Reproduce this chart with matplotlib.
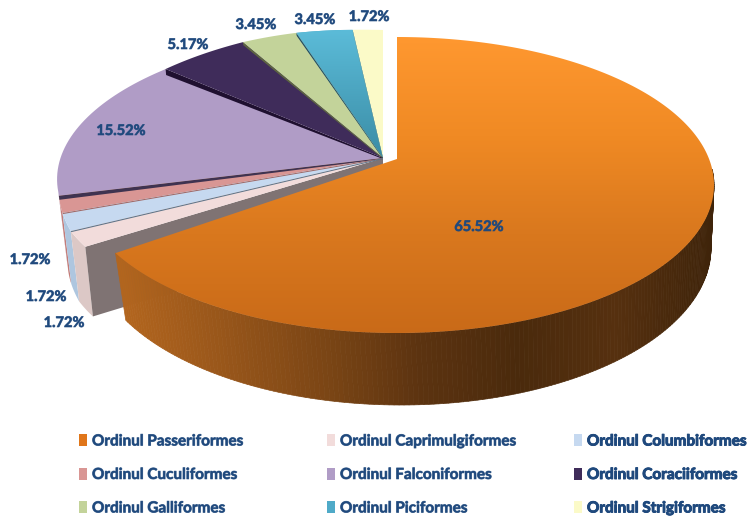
import numpy as np
import matplotlib
matplotlib.use("Agg")
import matplotlib.pyplot as plt
from matplotlib.patches import Polygon, Patch
from matplotlib.collections import PolyCollection
from matplotlib.colors import LinearSegmentedColormap
import matplotlib.patheffects as pe

categories = ["Ordinul Passeriformes", "Ordinul Caprimulgiformes", "Ordinul Columbiformes",
              "Ordinul Cuculiformes", "Ordinul Falconiformes", "Ordinul Coraciiformes",
              "Ordinul Galliformes", "Ordinul Piciformes", "Ordinul Strigiformes"]
values = [65.52, 1.72, 1.72, 1.72, 15.52, 5.17, 3.45, 3.45, 1.72]
top_colors = ["#F08A24", "#F2DCDB", "#C6D9F0", "#D99694", "#B09CC6", "#3F2C5A", "#C3D39A", "#4FAAC8", "#FBFAC8"]
side_colors = ["#8A4F15", "#DCC8C6", "#AEC6DF", "#C47C78", "#8F7FA3", "#1F1030", "#5E6640", "#1F4D66", "#8B8B60"]
wall_colors = ["#8A4F15", "#7F7373", "#5F7488", "#A06A68", "#3F3350", "#1F1030", "#5E6640", "#1F4D66", "#8B8B60"]
wall_depth = [0, 70, 1, 1, 4, 6, 3, 3, 3]
label_xy = [(479, 227), (64, 323), (46, 297), (30, 260), (121, 131), (188, 45), (256, 25), (315, 20), (369, 17)]
warp_angle = [-270, -263, -251, -239, -220, -165, -158, -152, -146]
warp_dx = [0, 0, 4, 8, 8, -1, -5, -8, -9]
warp_dy = [0, -1, -3, -4, -2, -3, -2, 0, 0]

LABEL = "#1F497D"
fig = plt.figure(figsize=(7.49, 5.17), dpi=100)
ax = fig.add_axes([0, 0, 1, 1])
ax.set_xlim(0, 749)
ax.set_ylim(517, 0)
ax.axis("off")

# cumulative angles, clockwise from 12 o'clock
frac = np.array(values) / sum(values) * 360
ends = 90 - np.cumsum(frac)
starts = np.r_[90, ends[:-1]]


def rim(theta, apex, c, r):
    """Point of the tilted rim on the ray from the apex at data angle theta."""
    t = np.radians(theta)
    dx, dy = np.cos(t) * r[0], -np.sin(t) * r[1]
    ox, oy = (apex[0] - c[0]) / r[0], (apex[1] - c[1]) / r[1]
    a = (dx / r[0]) ** 2 + (dy / r[1]) ** 2
    b = 2 * (ox * dx / r[0] + oy * dy / r[1])
    k = ox ** 2 + oy ** 2 - 1
    s = (-b + np.sqrt(b * b - 4 * a * k)) / (2 * a)
    return np.c_[apex[0] + s * dx, apex[1] + s * dy]


def lower(pts, c, r, c2, r2):
    cs = (pts[:, 0] - c[0]) / r[0]
    sn = (pts[:, 1] - c[1]) / r[1]
    return np.c_[c2[0] + cs * r2[0], c2[1] + sn * r2[1]]


# small slices, back to front
apex = (383, 158)
C, R = (383, 178), (326, 148)
C2, R2 = (376, 250), (310, 143)
for i in [8, 7, 6, 5, 4, 3, 2, 1]:
    a0, a1 = starts[i], ends[i]
    th = np.linspace(a1, a0, 40)
    arc = rim(th, apex, C, R) + np.c_[np.interp(th, warp_angle, warp_dx), np.interp(th, warp_angle, warp_dy)]
    low = lower(arc, C, R, C2, R2)
    # outer side, visible only in the front half
    mask = arc[:, 1] > 190
    if mask.sum() > 1:
        ax.add_patch(Polygon(np.r_[arc[mask], low[mask][::-1]], fc=side_colors[i], ec="none", zorder=2))
    # cut wall along the front edge of the slice
    p = arc[-1]
    d = wall_depth[i]
    q = low[-1] if d >= 50 else p + np.array([0.5, d])
    ap2 = (apex[0], apex[1] + (d if d >= 50 else 1))
    ax.add_patch(Polygon([apex, p, q, ap2], fc=wall_colors[i], ec="none",
                         zorder=2 if d >= 50 else 2.5))
    poly = Polygon(np.r_[[apex], arc], fc=top_colors[i], ec="none", zorder=2)
    ax.add_patch(poly)
    if i == 7:
        cm = LinearSegmentedColormap.from_list("t", ["#5BBBD8", "#3A8CA5"])
        im = ax.imshow(np.linspace(0, 1, 64)[:, None], cmap=cm, extent=(290, 390, 160, 30),
                       aspect="auto", zorder=2)
        im.set_clip_path(poly)

# large exploded slice
apex0 = (397, 159)
C0, R0 = (397, 185), (317, 148)
C3, R3 = (401, 248), (310, 157)
th = np.linspace(ends[0] + 1.5, 90, 300)
arc = rim(th, apex0, C0, R0)
low = lower(arc, C0, R0, C3, R3)
cm_side = LinearSegmentedColormap.from_list(
    "s", ["#B2651E", "#98561A", "#7C4615", "#5C3310", "#4A2A0C", "#56300F", "#3F240A"])
quads = [[arc[k], arc[k + 1], low[k + 1], low[k]] for k in range(len(arc) - 1) if arc[k, 1] > 170]
xs = np.array([q[0][0] for q in quads])
cols = cm_side((xs - 118) / (714 - 118))
ax.add_collection(PolyCollection(quads, facecolors=cols, edgecolors=cols, linewidths=0.5, zorder=3))
top = Polygon(np.r_[[apex0], arc], fc="none", ec="none", zorder=4)
ax.add_patch(top)
cm_top = LinearSegmentedColormap.from_list("o", ["#FF9830", "#F08A24", "#D9781E", "#C96A18"])
im = ax.imshow(np.linspace(0, 1, 128)[:, None], cmap=cm_top, extent=(100, 720, 335, 35),
               aspect="auto", zorder=4)
im.set_clip_path(top)
ax.set_xlim(0, 749)
ax.set_ylim(517, 0)

stroke = [pe.withStroke(linewidth=0.6, foreground=LABEL, alpha=0.7)]
for v, (x, y) in zip(values, label_xy):
    ax.text(x, y, f"{v:.2f}%", color=LABEL, fontsize=10.5, fontweight="bold", family="Lato",
            ha="center", va="center", zorder=6, path_effects=stroke)

handles = [Patch(fc=c if n else "#E0761A", ec="none") for n, c in enumerate(top_colors)]
columns = [([0, 3, 6], 79), ([1, 4, 7], 327), ([2, 5, 8], 574)]
for idx, x0 in columns:
    leg = ax.legend([handles[k] for k in idx], [categories[k] for k in idx],
                    loc="lower left", bbox_to_anchor=(x0 / 749, 0.003), frameon=False,
                    prop={"family": "Lato", "weight": "bold", "size": 11.0},
                    labelcolor=LABEL, handlelength=0.55, handleheight=0.85, handletextpad=0.3,
                    labelspacing=1.25, borderpad=0, borderaxespad=0.0)
    for t in leg.get_texts():
        t.set_path_effects(stroke)
    ax.add_artist(leg)

fig.savefig("out.png", dpi=100)
